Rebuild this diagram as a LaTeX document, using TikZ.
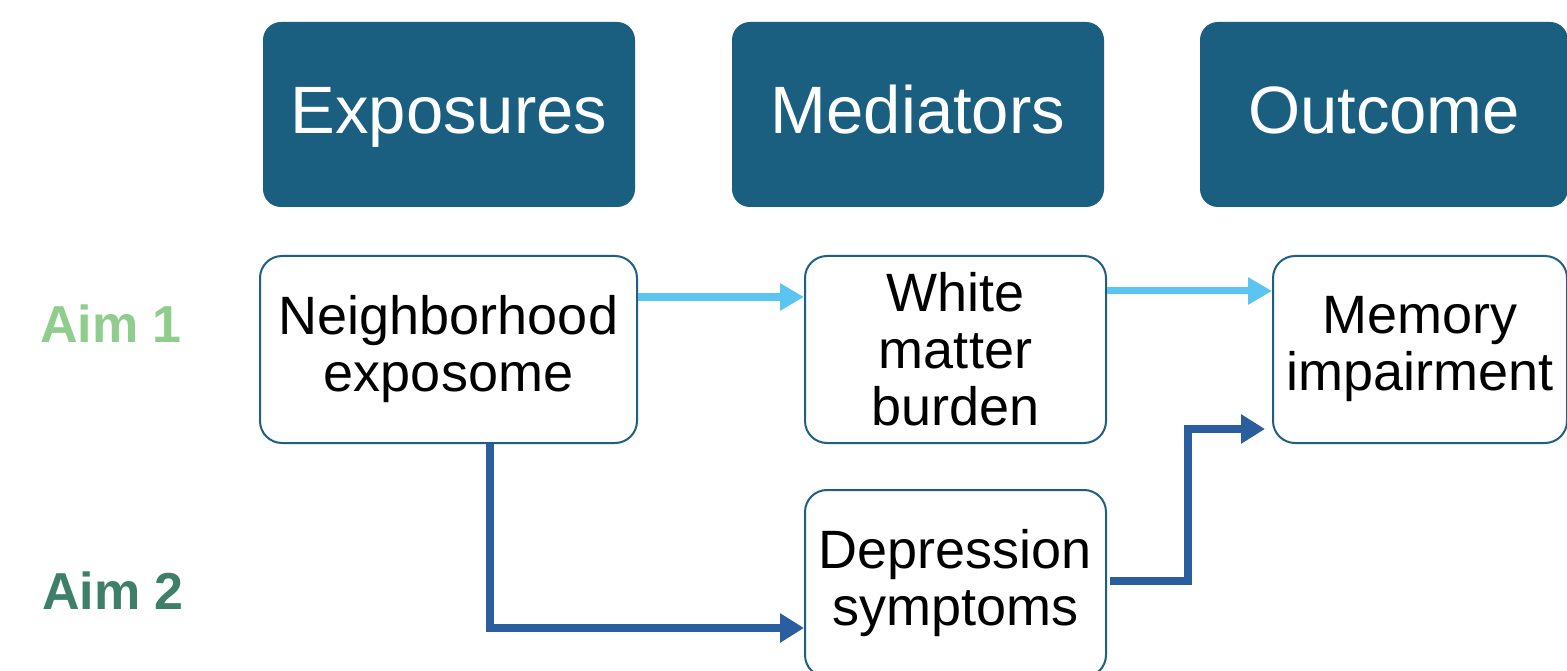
\documentclass[tikz,border=0pt]{standalone}
\usepackage{fontspec}
\setmainfont{Liberation Sans}
\usetikzlibrary{arrows.meta}
\definecolor{headblue}{HTML}{1A5E80}
\definecolor{boxline}{HTML}{1F5F82}
\definecolor{lightarrow}{HTML}{5BC4F0}
\definecolor{darkarrow}{HTML}{2A5E9E}
\definecolor{aimone}{HTML}{8FCD8C}
\definecolor{aimtwo}{HTML}{3D7F68}
\tikzset{
  header/.style={rectangle, rounded corners=18pt, fill=headblue, text=white,
    minimum height=185pt, inner sep=0pt, text height=48pt, text depth=10pt,
    font=\fontsize{67}{72}\selectfont},
  item/.style={rectangle, rounded corners=22pt, draw=boxline, line width=2pt, fill=white,
    minimum height=187pt, inner sep=0pt, align=center, font=\fontsize{54}{57}\selectfont},
  aimlabel/.style={font=\bfseries\fontsize{52}{56}\selectfont, inner sep=0pt},
  lightconn/.style={draw=lightarrow, line width=7pt,
    -{Triangle[length=24pt,width=26pt]}},
  darkconn/.style={draw=darkarrow, line width=8pt,
    -{Triangle[length=24pt,width=28pt]}}
}
\begin{document}
\begin{tikzpicture}[x=1pt,y=-1pt]
\useasboundingbox (0,0) rectangle (1567,671);
\clip (0,0) rectangle (1567,671);
\fill[white] (0,0) rectangle (1567,671);
\node[header, minimum width=372pt] (hexp) at (449,114.5) {Exposures};
\node[header, minimum width=372pt] (hmed) at (918,114.5) {Mediators};
\node[header, minimum width=368pt] (hout) at (1384,114.5) {Outcome};
\node[item, minimum width=377pt] (nbh) at (448.5,349.5) {Neighborhood\\exposome};
\node[item, minimum width=301pt] (wmb) at (955.5,349.5) {White\\matter\\burden};
\node[item, minimum width=294pt] (mem) at (1420,349.5) {Memory\\impairment};
\node[item, minimum width=301pt] (dep) at (955.5,583.5) {Depression\\symptoms};
\node[aimlabel, text=aimone] (aim1) at (111,324) {Aim 1};
\node[aimlabel, text=aimtwo] (aim2) at (113,591) {Aim 2};
\draw[lightconn] (nbh.east |- 0,297) -- (wmb.west |- 0,297);
\draw[lightconn] (wmb.east |- 0,291) -- (mem.west |- 0,291);
\draw[darkconn] (nbh.south -| 490,0) -- (490,628) -- (dep.west |- 0,628);
\coordinate (depout) at (1110,581);
\draw[darkconn] (depout) -- (1188,581) -- (1188,429) -- ([xshift=-7pt]mem.west |- 0,429);
\end{tikzpicture}
\end{document}
